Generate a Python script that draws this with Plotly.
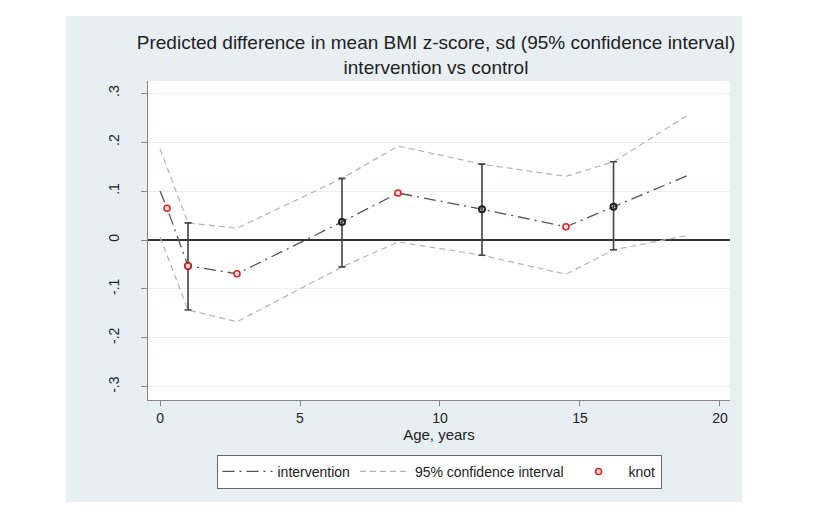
import plotly.graph_objects as go

# ---- data ----
line_x = [0, 0.25, 1, 2.75, 6.5, 8.5, 11.5, 14.5, 16.2, 18.9]
line_y = [0.100, 0.065, -0.053, -0.069, 0.037, 0.096, 0.063, 0.027, 0.068, 0.133]

ci_x = [0, 1, 2.75, 6.5, 8.5, 11.5, 14.5, 16.2, 18.9]
ci_upper = [0.186, 0.035, 0.024, 0.126, 0.192, 0.155, 0.130, 0.160, 0.257]
ci_lower = [0.006, -0.143, -0.167, -0.055, -0.004, -0.031, -0.070, -0.020, 0.010]

eb_x = [1, 6.5, 11.5, 16.2]
eb_mid = [-0.053, 0.037, 0.063, 0.068]
eb_lo = [-0.143, -0.055, -0.031, -0.020]
eb_hi = [0.035, 0.126, 0.155, 0.160]

knot_x = [0.25, 1, 2.75, 8.5, 14.5]
knot_y = [0.065, -0.053, -0.069, 0.096, 0.027]

y_ticks = [-0.3, -0.2, -0.1, 0, 0.1, 0.2, 0.3]
y_ticklabels = ["-.3", "-.2", "-.1", "0", ".1", ".2", ".3"]
x_ticks = [0, 5, 10, 15, 20]

title_text = ("Predicted difference in mean BMI z-score, sd (95% confidence interval)"
              "<br>intervention vs control")

FONT = "Liberation Sans, Arial, sans-serif"

fig = go.Figure()

fig.add_trace(go.Scatter(
    x=line_x, y=line_y, mode="lines", name="intervention",
    line=dict(color="#555555", width=1.3, dash="12px,5px,2px,5px"),
))
fig.add_trace(go.Scatter(
    x=ci_x, y=ci_upper, mode="lines", name="95% confidence interval",
    line=dict(color="#b4b4b4", width=1.2, dash="6px,4px"),
))
fig.add_trace(go.Scatter(
    x=ci_x, y=ci_lower, mode="lines", name="95% confidence interval",
    line=dict(color="#b4b4b4", width=1.2, dash="6px,4px"), showlegend=False,
))
fig.add_trace(go.Scatter(
    x=eb_x, y=eb_mid, mode="markers", showlegend=False,
    marker=dict(symbol="circle-open", size=6, color="#222222", line=dict(width=2)),
    error_y=dict(type="data", symmetric=False,
                 array=[h - m for h, m in zip(eb_hi, eb_mid)],
                 arrayminus=[m - l for m, l in zip(eb_mid, eb_lo)],
                 color="#444444", thickness=1.6, width=3.5),
))
fig.add_trace(go.Scatter(
    x=knot_x, y=knot_y, mode="markers", name="knot",
    marker=dict(symbol="circle", size=6, color="#fbe3e3",
                line=dict(color="#ee2020", width=1.6)),
))

# panel background and white plot region
fig.add_shape(type="rect", xref="paper", yref="paper",
              x0=(66 - 148) / 582, x1=(742 - 148) / 582,
              y0=(400 - 502) / 319, y1=(400 - 16) / 319,
              fillcolor="#e8eff2", line=dict(width=0), layer="below")
fig.add_shape(type="rect", xref="paper", yref="paper",
              x0=0, x1=1, y0=0, y1=1,
              fillcolor="#ffffff", line=dict(width=0), layer="below")

fig.update_layout(
    width=824, height=516,
    margin=dict(l=148, r=94, t=81, b=116),
    paper_bgcolor="#ffffff", plot_bgcolor="rgba(0,0,0,0)",
    font=dict(family=FONT, color="#222222", size=13),
    title=dict(text=title_text, x=436 / 824, xanchor="center", xref="container",
               y=1 - 49 / 516, yanchor="top", yref="container",
               font=dict(size=19, color="#222222", family=FONT)),
    showlegend=True,
    legend=dict(orientation="h", x=0.5, xanchor="center", y=-0.172, yanchor="top",
                bgcolor="#ffffff", bordercolor="#666666", borderwidth=1,
                itemwidth=50,
                font=dict(size=14, color="#222222", family=FONT)),
    xaxis=dict(range=[-0.43, 20.36], tickvals=x_ticks, ticks="outside", ticklen=5,
               tickcolor="#888888", showline=True, linecolor="#888888", linewidth=1,
               showgrid=False, zeroline=False,
               title=dict(text="Age, years", font=dict(size=15), standoff=4),
               tickfont=dict(size=14)),
    yaxis=dict(range=[-0.327, 0.325], tickvals=y_ticks, ticktext=y_ticklabels,
               ticks="outside", ticklen=6, tickcolor="#888888", tickangle=-90,
               ticklabelstandoff=16,
               showline=True, linecolor="#888888", linewidth=1,
               showgrid=True, gridcolor="#e9f0f2", gridwidth=1,
               zeroline=True, zerolinecolor="#333333", zerolinewidth=2,
               tickfont=dict(size=14)),
)

fig.write_html("out.html", config={"displayModeBar": False},
               post_script="document.body.style.margin='0';")
